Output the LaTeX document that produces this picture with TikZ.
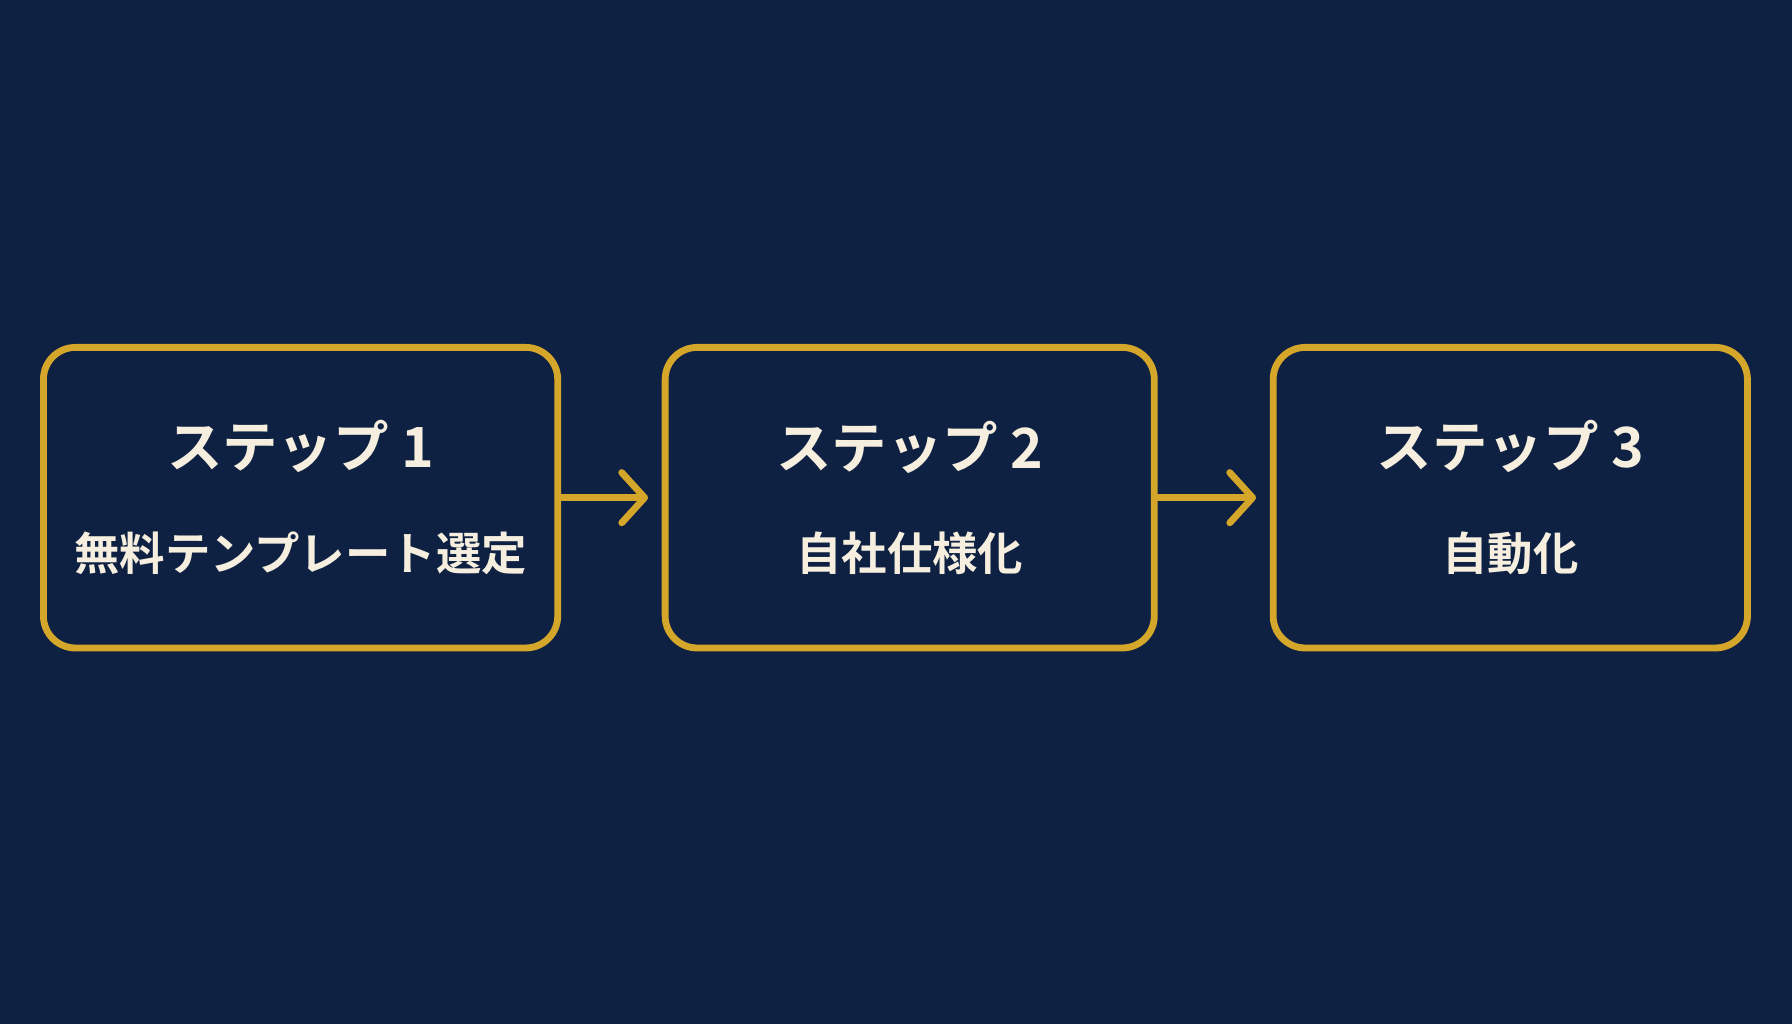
\documentclass[tikz,border=0pt]{standalone}
\usepackage{fontspec}
\newfontfamily\jpfont{Noto Sans CJK JP Bold}
\usetikzlibrary{arrows.meta}
\definecolor{navy}{HTML}{0F2142}
\definecolor{gold}{HTML}{D4A62A}
\definecolor{cream}{HTML}{F6EFDF}
\newcommand{\steptitle}[1]{{\fontsize{13.8}{16}\selectfont ステップ #1}}
\begin{document}
\begin{tikzpicture}[every node/.style={draw=gold, line width=1.7pt, rounded corners=0.28cm, minimum height=2.63cm, inner sep=0pt, text=cream, align=center, font=\jpfont\fontsize{11.3}{25.5}\selectfont}]
      \fill[navy] (0,0) rectangle (15.68,8.96);
      \useasboundingbox (0,0) rectangle (15.68,8.96);
      \node (1) at (2.63,4.605) [minimum width=4.5cm] {\steptitle{1}\\無料テンプレート選定};
      \node (2) at (7.96,4.605) [minimum width=4.28cm] {\steptitle{2}\\自社仕様化};
      \node (3) at (13.215,4.605) [minimum width=4.15cm] {\steptitle{3}\\自動化};
      \foreach \source/\dest in {1/2, 2/3}
        \draw[gold, line width=1.7pt, line cap=round, -{Straight Barb[length=0.2cm, width=0.44cm, line width=1.7pt, round]}] (\source.east) -- ([xshift=-0.12cm]\dest.west);
    \end{tikzpicture}
\end{document}
